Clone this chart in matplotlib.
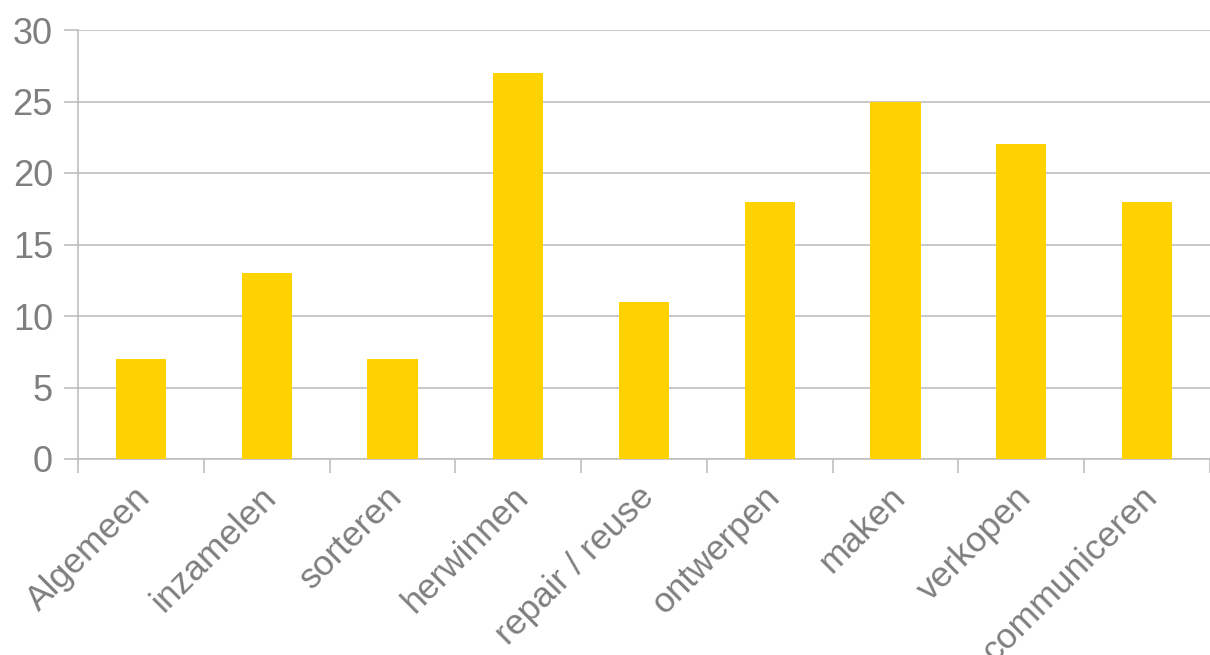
import numpy as np
import matplotlib.pyplot as plt
from matplotlib.transforms import ScaledTranslation

categories = ['Algemeen', 'inzamelen', 'sorteren', 'herwinnen', 'repair / reuse',
              'ontwerpen', 'maken', 'verkopen', 'communiceren']
values = [7, 13, 7, 27, 11, 18, 25, 22, 18]

bar_color = '#FFD200'
grid_color = '#BFBFBF'
text_color = '#7F7F7F'

plt.rcParams['font.family'] = ['Liberation Sans', 'DejaVu Sans']

fig = plt.figure(figsize=(12.1, 6.55), dpi=100)
ax = fig.add_axes([78 / 1210, 1 - 459 / 655, 1132 / 1210, 429 / 655])

x = np.arange(len(categories))
ax.bar(x, values, width=0.4, color=bar_color, zorder=3)

ax.set_xlim(-0.5, len(categories) - 0.5)
ax.set_ylim(0, 30)
ax.set_yticks(np.arange(0, 31, 5))
ax.yaxis.grid(True, color=grid_color, linewidth=1.2, zorder=0)

# category boundary ticks, labels centered under bars
ax.set_xticks(np.arange(-0.5, len(categories), 1))
ax.set_xticklabels([])
ax.set_xticks(x, minor=True)
ax.set_xticklabels(categories, minor=True, rotation=45, ha='right',
                   rotation_mode='anchor', fontsize=25.5, color=text_color)
ax.tick_params(axis='x', which='minor', length=0, pad=16)
ax.tick_params(axis='x', which='major', length=10, width=1.2, color=grid_color)
ax.tick_params(axis='y', length=10, width=1.2, color=grid_color,
               labelsize=26, labelcolor=text_color, pad=8)

shift = ScaledTranslation(-7 / 100, 1 / 100, fig.dpi_scale_trans)
for lbl in ax.get_xticklabels(minor=True):
    lbl.set_transform(lbl.get_transform() + shift)

for side in ['top', 'right']:
    ax.spines[side].set_visible(False)
for side in ['left', 'bottom']:
    ax.spines[side].set_color(grid_color)
    ax.spines[side].set_linewidth(1.2)

fig.savefig('out.png', dpi=100, facecolor='white')
